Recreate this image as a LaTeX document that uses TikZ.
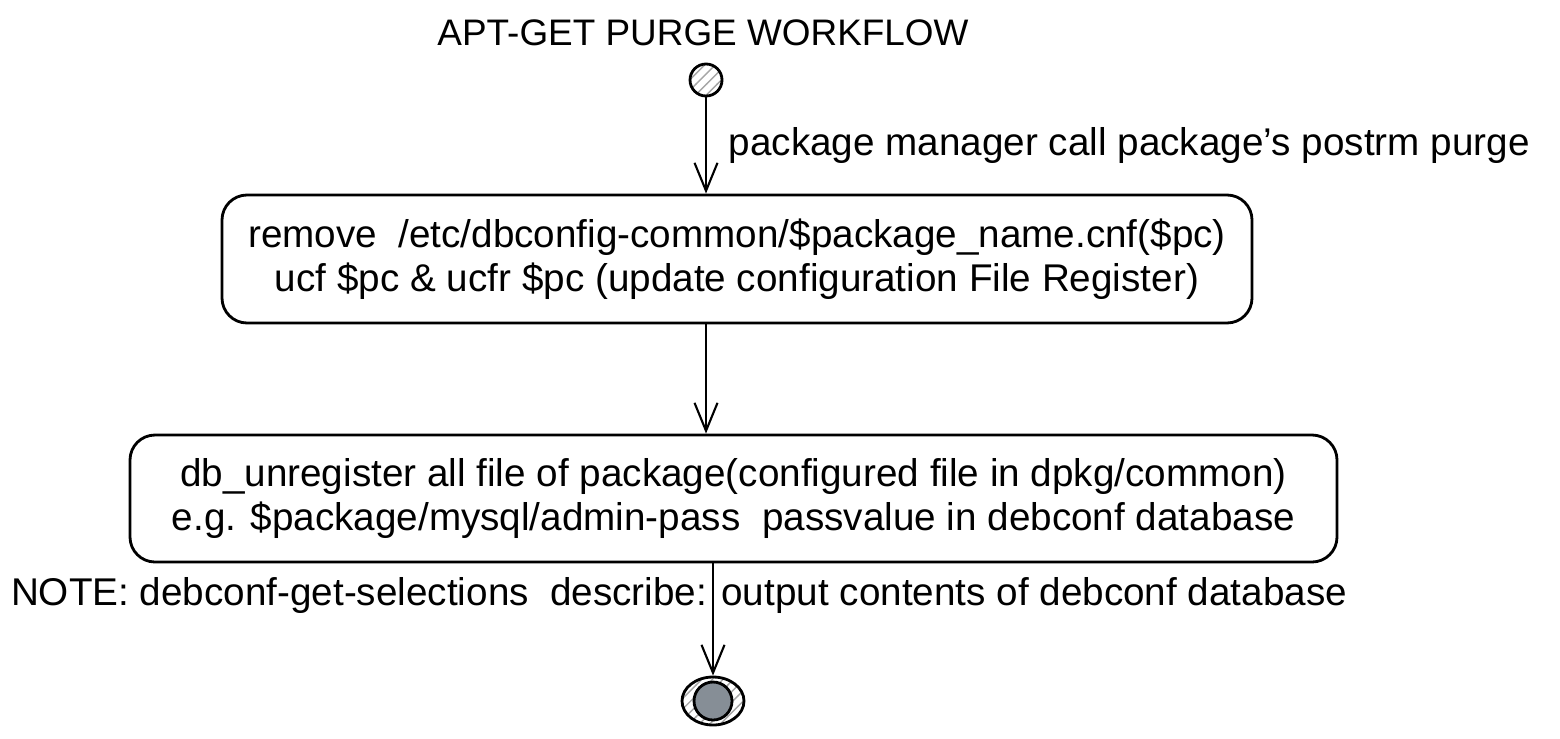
\documentclass[tikz,border=0pt]{standalone}
\usepackage{fontspec}
\setmainfont{Liberation Sans}
\usepackage{tikz}
\usetikzlibrary{arrows.meta,patterns,calc,shapes.geometric}
\definecolor{endgray}{RGB}{134,142,150}

\begin{document}
\begin{tikzpicture}[->,>={Straight Barb[length=2.8mm,width=2.3mm]},semithick,
                    every node/.style={font=\fontsize{11}{12.4}\selectfont},
                    stepbox/.style={draw,rounded corners=2.5mm,align=center,
                                    inner sep=0pt,thick},
                    hatched/.style={pattern=north east lines,pattern color=gray!70}]
% \tikzstyle{every node}=[draw=none]
 \useasboundingbox (0,0) rectangle (15.6,7.38);

 \node [font=\fontsize{10.5}{12}\selectfont]
                    (title) at (7.03,7.05) {APT-GET PURGE WORKFLOW};
 \node [circle,draw,thick,hatched,minimum size=3.2mm,inner sep=0pt]
                    (S) at (7.06,6.58) {};

 \node [stepbox,minimum width=10.3cm,minimum height=1.28cm]
                    (b1) at (7.37,4.79)
   {remove \ /etc/dbconfig-common/\$package\_name.cnf(\$pc)\\
    ucf \$pc \& ucfr \$pc (update configuration File Register)};

 \node [stepbox,minimum width=12.07cm,minimum height=1.27cm]
                    (b2) at (7.335,2.395)
   {db\_unregister all file of package(configured file in dpkg/common)\\
    e.g. \$package/mysql/admin-pass \ passvalue in debconf database};

 \node [anchor=west,inner sep=0pt] (note) at (0.1,1.43)
   {NOTE: debconf-get-selections \ describe: output contents of debconf database};

 \node [ellipse,draw,thick,hatched,minimum width=6.2mm,minimum height=4.8mm,
        inner sep=0pt] (E) at (7.13,0.37) {};
 \node [circle,draw,thick,fill=endgray,minimum size=3.8mm,
        inner sep=0pt] (Ei) at (E) {};

 \path (S) edge node [right,xshift=1mm] {package manager call package's postrm purge}
                (S |- b1.north)
       (S |- b1.south) edge (S |- b2.north)
       (E |- b2.south) edge (E.north)
 ;
\end{tikzpicture}
\end{document}
